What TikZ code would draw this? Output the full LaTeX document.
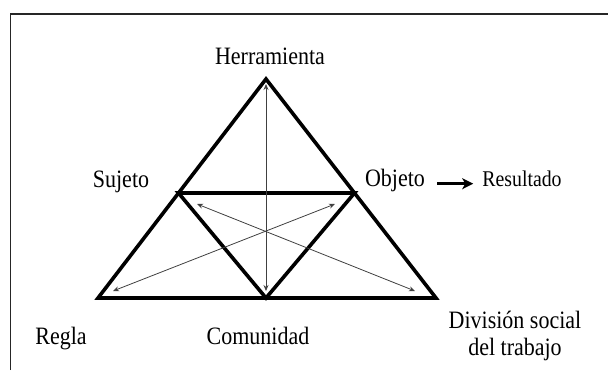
\documentclass[tikz,border=0pt]{standalone}
\usepackage{fontspec}
\setmainfont[FakeStretch=0.88]{Liberation Serif}
\usetikzlibrary{arrows.meta}
\begin{document}
\begin{tikzpicture}[x=1pt,y=-1pt,
  thickedge/.style={line width=3.6pt,line join=miter,line cap=round},
  thinarrow/.style={line width=0.8pt,draw=black!75,{Stealth[length=6pt,width=5pt]}-{Stealth[length=6pt,width=5pt]}},
  lbl/.style={inner sep=0pt,anchor=base,font=\fontsize{25}{27}\selectfont},
  lblsmall/.style={inner sep=0pt,anchor=base,font=\fontsize{22.5}{24}\selectfont},
  framebox/.style={line width=1.3pt,draw=black!85}]
\useasboundingbox (0,0) rectangle (608,370);
% frame (top and left only)
\coordinate (fa) at (10.7,370);
\coordinate (fb) at (10.7,14);
\coordinate (fc) at (608,14);
\draw[framebox] (fa) -- (fb) -- (fc);
% triangle vertices
\coordinate (A) at (266,79);
\coordinate (L) at (98,298);
\coordinate (R) at (436,298);
\coordinate (M) at (266,298);
\coordinate (P) at (178.5,193);
\coordinate (Q) at (354.5,193);
\draw[thickedge] (A) -- (L) -- (R) -- cycle;
\draw[thickedge] (P) -- (Q) -- (M) -- cycle;
% thin double arrows
\coordinate (v1) at (266,84);
\coordinate (v2) at (266,291);
\coordinate (d1a) at (113,291);
\coordinate (d1b) at (335,204);
\coordinate (d2a) at (197,204);
\coordinate (d2b) at (415,291);
\draw[thinarrow] (v1) -- (v2);
\draw[thinarrow] (d1a) -- (d1b);
\draw[thinarrow] (d2a) -- (d2b);
% labels
\node[lbl] (herr) at (270,64) {Herramienta};
\node[lbl] (suj) at (121,187) {Sujeto};
\node[lbl] (obj) at (395,186) {Objeto};
\node[lblsmall] (res) at (522,186) {Resultado};
\node[lbl] (reg) at (61,344) {Regla};
\node[lbl] (com) at (258,344) {Comunidad};
\node[lbl,align=center] (div) at (515,355) {División social\\del trabajo};
\draw[line width=3.4pt,-{Stealth[length=11pt,width=11pt,inset=3pt]},shorten <=12pt,shorten >=9pt]
  (obj.mid east) -- (obj.mid east -| res.west);
\end{tikzpicture}
\end{document}
